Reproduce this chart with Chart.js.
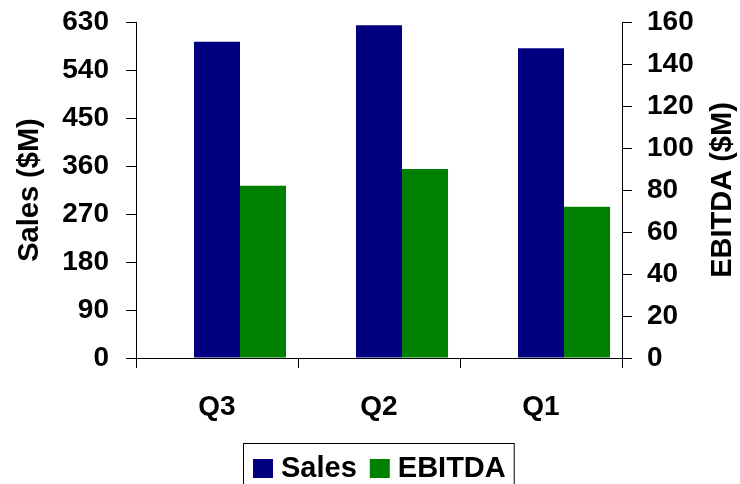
<!DOCTYPE html>
<html>
<head>
<meta charset="utf-8">
<script src="https://cdn.jsdelivr.net/npm/chart.js@4/dist/chart.umd.min.js"></script>
<style>
  html, body { margin: 0; padding: 0; background: #fff; }
</style>
</head>
<body>
<canvas id="chart" width="740" height="484"></canvas>
<script>
const quarters = ["Q3", "Q2", "Q1"];
const salesValues = [593, 624, 581];
const ebitdaValues = [82, 90, 72];
const spacer = [null, null, null];
const salesRange = { min: 0, max: 630, step: 90 };
const ebitdaRange = { min: 0, max: 160, step: 20 };
const rightTitle = "EBITDA ($M)";

const FONT = '"Liberation Sans", Arial, sans-serif';

// legend in a bordered box, plus the right axis title read bottom-to-top
const extras = {
  id: "extras",
  afterDraw(chart) {
    const ctx = chart.ctx;
    const area = chart.chartArea;
    const items = chart.data.datasets.filter(d => d.label);
    ctx.save();
    ctx.font = "bold 29px " + FONT;
    ctx.textBaseline = "middle";
    let total = 0;
    items.forEach((d, i) => {
      total += 28 + ctx.measureText(d.label).width + (i < items.length - 1 ? 13 : 0);
    });
    const cx = (area.left + area.right) / 2;
    let x = Math.round(cx - total / 2);
    const top = area.bottom + 85;
    ctx.strokeStyle = "#000";
    ctx.lineWidth = 1;
    ctx.strokeRect(x - 9.5, top + 0.5, total + 18, 52);
    items.forEach(d => {
      ctx.fillStyle = d.backgroundColor;
      ctx.fillRect(x, top + 16, 20, 19);
      ctx.fillStyle = "#000";
      ctx.fillText(d.label, x + 28, top + 26);
      x += 28 + ctx.measureText(d.label).width + 13;
    });

    ctx.translate(723, (area.top + area.bottom) / 2);
    ctx.rotate(-Math.PI / 2);
    ctx.textAlign = "center";
    ctx.fillText(rightTitle, 0, 0);
    ctx.restore();
  }
};

const tickFont = { family: FONT, size: 28, weight: "bold" };
const titleFont = { family: FONT, size: 29, weight: "bold" };

new Chart(document.getElementById("chart"), {
  type: "bar",
  data: {
    labels: quarters,
    datasets: [
      { data: spacer, backgroundColor: "rgba(0,0,0,0)", yAxisID: "y" },
      { label: "Sales", data: salesValues, backgroundColor: "#000080", yAxisID: "y" },
      { label: "EBITDA", data: ebitdaValues, backgroundColor: "#008000", yAxisID: "y1" }
    ]
  },
  options: {
    responsive: false,
    animation: false,
    categoryPercentage: 0.852,
    barPercentage: 1,
    layout: { padding: { top: 22, bottom: 0 } },
    scales: {
      x: {
        offset: true,
        grid: { offset: true, drawOnChartArea: false, color: "#000", tickLength: 10 },
        border: { color: "#000" },
        ticks: { color: "#000", font: tickFont, padding: 22 },
        afterFit(s) { s.height = 126; }
      },
      y: {
        position: "left",
        min: salesRange.min,
        max: salesRange.max,
        grid: { drawOnChartArea: false, color: "#000", tickLength: 10 },
        border: { color: "#000" },
        ticks: { stepSize: salesRange.step, color: "#000", font: tickFont, padding: 17 },
        title: { display: true, text: "Sales ($M)", color: "#000", font: titleFont, padding: { top: 13, bottom: 0 } },
        afterFit(s) { s.width = 136; s.paddingTop = 0; s.paddingBottom = 0; }
      },
      y1: {
        position: "right",
        min: ebitdaRange.min,
        max: ebitdaRange.max,
        grid: { drawOnChartArea: false, color: "#000", tickLength: 10 },
        border: { color: "#000" },
        ticks: { stepSize: ebitdaRange.step, color: "#000", font: tickFont, padding: 15 },
        afterFit(s) { s.width = 118; s.paddingTop = 0; s.paddingBottom = 0; }
      }
    },
    plugins: {
      legend: { display: false },
      tooltip: { enabled: false }
    }
  },
  plugins: [extras]
});
</script>
</body>
</html>
